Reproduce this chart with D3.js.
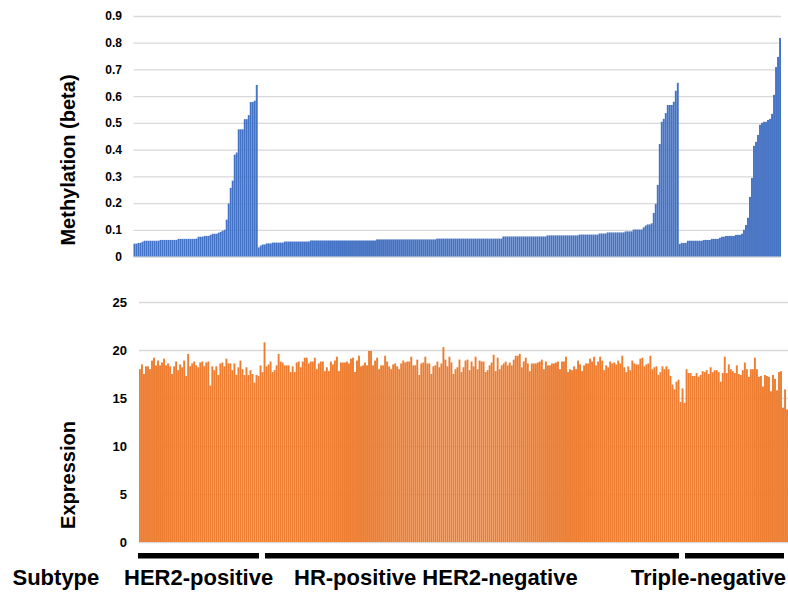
<!DOCTYPE html>
<html>
<head>
<meta charset="utf-8">
<script src="https://cdn.jsdelivr.net/npm/d3@7"></script>
<style>
  body { margin: 0; background: #fff; }
  text { font-family: "Liberation Sans", Arial, sans-serif; font-weight: bold; fill: #000; }
</style>
</head>
<body>
<svg id="chart" width="788" height="595"></svg>
<script>
// subtypes, in sample order
const subtypes = ["HER2-positive", "HR-positive HER2-negative", "Triple-negative"];
const subtypeCounts = [62, 210, 51];

// methylation (beta) per sample, sorted within each subtype
const methylation = [
  // HER2-positive
  0.048, 0.048, 0.051, 0.051, 0.055, 0.059, 0.059, 0.059, 0.059, 0.059,
  0.059, 0.059, 0.059, 0.062, 0.062, 0.062, 0.062, 0.062, 0.062, 0.062,
  0.062, 0.062, 0.066, 0.066, 0.066, 0.066, 0.066, 0.066, 0.066, 0.066,
  0.066, 0.067, 0.074, 0.074, 0.074, 0.077, 0.077, 0.077, 0.081, 0.085,
  0.085, 0.085, 0.089, 0.092, 0.096, 0.100, 0.138, 0.198, 0.257, 0.284,
  0.381, 0.389, 0.476, 0.476, 0.476, 0.514, 0.514, 0.529, 0.578, 0.578,
  0.583, 0.642,
  // HR-positive HER2-negative
  0.034, 0.041, 0.045, 0.045, 0.049, 0.049, 0.049, 0.052, 0.052, 0.052,
  0.052, 0.052, 0.052, 0.056, 0.056, 0.056, 0.056, 0.056, 0.056, 0.056,
  0.056, 0.056, 0.056, 0.056, 0.056, 0.056, 0.060, 0.060, 0.060, 0.060,
  0.060, 0.060, 0.060, 0.060, 0.060, 0.060, 0.060, 0.060, 0.060, 0.060,
  0.060, 0.060, 0.060, 0.060, 0.060, 0.060, 0.060, 0.060, 0.060, 0.060,
  0.060, 0.060, 0.060, 0.060, 0.060, 0.060, 0.060, 0.060, 0.060, 0.064,
  0.064, 0.064, 0.064, 0.064, 0.064, 0.064, 0.064, 0.064, 0.064, 0.064,
  0.064, 0.064, 0.064, 0.064, 0.064, 0.064, 0.064, 0.064, 0.064, 0.064,
  0.064, 0.064, 0.064, 0.064, 0.064, 0.064, 0.064, 0.064, 0.064, 0.067,
  0.067, 0.067, 0.067, 0.067, 0.067, 0.067, 0.067, 0.067, 0.067, 0.067,
  0.067, 0.067, 0.067, 0.067, 0.067, 0.067, 0.067, 0.067, 0.067, 0.067,
  0.067, 0.067, 0.067, 0.067, 0.067, 0.067, 0.067, 0.067, 0.067, 0.067,
  0.067, 0.067, 0.075, 0.075, 0.075, 0.075, 0.075, 0.075, 0.075, 0.075,
  0.075, 0.075, 0.075, 0.075, 0.075, 0.075, 0.075, 0.075, 0.075, 0.075,
  0.075, 0.075, 0.075, 0.075, 0.079, 0.079, 0.079, 0.079, 0.079, 0.079,
  0.079, 0.079, 0.079, 0.079, 0.079, 0.079, 0.079, 0.079, 0.079, 0.079,
  0.082, 0.082, 0.082, 0.082, 0.082, 0.082, 0.082, 0.082, 0.082, 0.082,
  0.086, 0.086, 0.086, 0.086, 0.090, 0.090, 0.090, 0.090, 0.090, 0.090,
  0.090, 0.090, 0.090, 0.094, 0.094, 0.094, 0.094, 0.101, 0.101, 0.101,
  0.101, 0.101, 0.109, 0.116, 0.120, 0.120, 0.124, 0.163, 0.197, 0.268,
  0.421, 0.504, 0.515, 0.537, 0.567, 0.567, 0.567, 0.579, 0.620, 0.650,
  // Triple-negative
  0.047, 0.051, 0.051, 0.051, 0.059, 0.059, 0.059, 0.059, 0.059, 0.059,
  0.059, 0.059, 0.062, 0.062, 0.062, 0.062, 0.066, 0.066, 0.066, 0.066,
  0.070, 0.074, 0.074, 0.077, 0.077, 0.077, 0.077, 0.077, 0.081, 0.081,
  0.081, 0.085, 0.100, 0.118, 0.145, 0.223, 0.294, 0.414, 0.429, 0.455,
  0.493, 0.500, 0.504, 0.504, 0.511, 0.515, 0.534, 0.605, 0.709, 0.747,
  0.818
];

// expression per sample, same order
const expression = [
  // HER2-positive
  18.0, 18.5, 17.5, 18.3, 18.3, 18.0, 18.9, 19.2, 18.4, 18.9,
  18.4, 18.7, 19.1, 18.4, 18.6, 18.3, 17.5, 18.3, 18.8, 17.9,
  18.5, 18.2, 18.9, 17.3, 19.6, 18.3, 18.6, 18.8, 18.4, 18.2,
  18.7, 18.8, 18.3, 18.7, 18.8, 16.3, 18.3, 17.9, 18.3, 17.4,
  18.6, 18.7, 18.3, 19.1, 18.6, 18.6, 17.9, 18.6, 17.4, 18.2,
  18.9, 18.0, 17.4, 18.2, 17.4, 17.9, 17.5, 16.6, 17.4, 17.3,
  18.4, 17.7,
  // HR-positive HER2-negative
  20.8, 18.3, 18.5, 18.8, 17.7, 17.9, 18.4, 19.6, 18.8, 18.7,
  18.4, 18.4, 18.4, 17.7, 18.3, 17.7, 18.7, 18.8, 18.2, 18.8,
  19.2, 19.2, 18.6, 18.8, 18.8, 19.2, 18.0, 18.6, 18.8, 18.8,
  17.8, 18.2, 17.8, 18.8, 18.5, 18.9, 19.3, 17.8, 18.7, 18.7,
  18.7, 18.8, 18.6, 19.1,
  19.2, 17.7, 18.9, 19.4, 18.3, 18.4, 18.7, 18.4, 19.9, 19.9,
  18.4, 18.9, 19.2, 18.0, 18.4, 18.4, 19.4, 18.8, 18.3, 18.0,
  18.5, 18.6, 18.3, 18.0, 18.6, 18.9, 18.7, 18.8, 18.8, 19.3,
  18.4, 18.4, 19.0, 17.4, 18.6, 18.7, 19.3, 18.6, 18.6, 17.5,
  18.3, 18.4, 18.8, 18.2, 18.6, 20.3, 19.0, 18.3, 19.3, 18.7,
  17.5, 18.0, 18.2, 19.0, 17.7, 18.2, 18.9, 19.0, 17.9, 18.8,
  18.3, 19.3, 18.0, 18.9, 18.8, 18.8, 17.7, 17.9, 18.4, 18.7,
  19.5, 17.8, 19.2, 18.0, 18.4, 18.6, 18.8, 18.4, 18.7, 18.4,
  19.0, 19.4, 19.4, 19.6, 18.2, 18.8, 19.2, 18.6, 17.8, 18.6,
  18.6, 18.6, 18.7, 18.8, 19.0, 18.0, 18.8, 18.4, 18.4, 18.6,
  18.6, 18.7, 18.8, 18.0, 18.8, 18.8, 19.3, 17.7, 18.0, 17.9,
  18.3,
  18.0, 18.9, 18.5, 17.8, 18.4, 18.6, 18.6, 19.1, 18.8, 19.3,
  18.4, 18.8, 19.3, 18.9, 17.9, 18.4, 18.2, 18.8, 18.6, 18.7,
  18.5, 18.9, 18.6, 19.4, 18.2, 17.7, 18.3, 17.9, 18.9, 18.6,
  18.5, 18.5, 19.1, 19.2, 18.3, 18.5, 18.6, 19.4, 18.0, 18.2,
  18.3, 17.4, 17.7, 18.3, 18.0, 18.3, 18.0,
  // Triple-negative
  17.3, 16.4, 15.9, 16.7, 16.9, 14.6, 16.0, 14.5, 18.0, 17.6,
  17.6, 17.3, 17.3, 17.6, 17.2, 17.4, 17.8, 17.7, 17.9, 17.5,
  18.2, 17.7, 17.9, 17.9, 17.7, 16.7, 17.6, 19.3, 17.6, 18.5,
  18.0, 17.8, 17.6, 18.4, 17.5, 17.4, 17.9, 18.7, 18.0, 17.2,
  18.0, 18.0, 19.2, 18.0, 17.2, 17.3, 16.2, 17.4, 17.3, 17.2,
  15.7, 17.4, 17.0, 15.8, 17.7, 17.8, 14.0, 15.9, 13.8
];

const methTicks = [0, 0.1, 0.2, 0.3, 0.4, 0.5, 0.6, 0.7, 0.8, 0.9];
const exprTicks = [0, 5, 10, 15, 20, 25];

const svg = d3.select("#chart");
const samples = d3.range(methylation.length);

// top panel: methylation
const xTop = d3.scaleBand().domain(samples).range([133.5, 781]).paddingInner(0.05);
const yTop = d3.scaleLinear().domain([0, 0.9]).range([256.5, 16]);

// bottom panel: expression (sits a few px to the right of the top one)
const xBot = d3.scaleBand().domain(samples).range([139, 788]).paddingInner(0.05);
const yBot = d3.scaleLinear().domain([0, 25]).range([542, 302]);

function grid(x, y, ticks, fmt, pad, size) {
    const g = svg.append("g")
        .attr("transform", "translate(" + x.range()[0] + ",0)")
        .call(d3.axisLeft(y)
            .tickValues(ticks)
            .tickSize(-(x.range()[1] - x.range()[0]))
            .tickPadding(pad)
            .tickFormat(fmt));
    g.select(".domain").remove();
    g.selectAll(".tick line").attr("stroke", "#d9d9d9").attr("stroke-width", 1.3);
    g.selectAll(".tick text")
        .style("font-size", size + "px")
        .style("font-weight", "bold")
        .style("font-family", "\"Liberation Sans\", Arial, sans-serif")
        .attr("fill", "#000");
}

grid(xTop, yTop, methTicks, d => d === 0 ? "0" : d3.format(".1f")(d), 11.5, 12);
grid(xBot, yBot, exprTicks, d3.format("d"), 12, 13);

svg.append("g")
    .selectAll("rect")
    .data(methylation)
    .enter()
    .append("rect")
    .attr("x", (d, i) => xTop(i))
    .attr("y", d => yTop(d))
    .attr("width", xTop.bandwidth())
    .attr("height", d => yTop(0) - yTop(d))
    .attr("fill", "#4472C4");

svg.append("g")
    .selectAll("rect")
    .data(expression)
    .enter()
    .append("rect")
    .attr("x", (d, i) => xBot(i))
    .attr("y", d => yBot(d))
    .attr("width", xBot.bandwidth())
    .attr("height", d => yBot(0) - yBot(d))
    .attr("fill", "#ED7D31");

// axis titles
svg.append("text")
    .attr("transform", "translate(75," + 160 + ") rotate(-90)")
    .attr("text-anchor", "middle")
    .style("font-size", "20px")
    .text("Methylation (beta)");

svg.append("text")
    .attr("transform", "translate(75," + 475 + ") rotate(-90)")
    .attr("text-anchor", "middle")
    .style("font-size", "20px")
    .text("Expression");

// subtype bars under the bottom panel
const xSub = d3.scaleLinear().domain([0, d3.sum(subtypeCounts)]).range([138, 784]);
const starts = subtypeCounts.map((c, i) => d3.sum(subtypeCounts.slice(0, i)));

svg.append("g")
    .selectAll("rect")
    .data(subtypeCounts)
    .enter()
    .append("rect")
    .attr("x", (d, i) => xSub(starts[i]) + (i > 0 ? 3 : 0))
    .attr("y", 553)
    .attr("width", (d, i) => xSub(starts[i] + d) - xSub(starts[i]) - (i > 0 ? 3 : 0) - (i < subtypeCounts.length - 1 ? 3 : 0))
    .attr("height", 5.5)
    .attr("fill", "#000");

svg.append("text")
    .attr("x", 12.5)
    .attr("y", 585)
    .style("font-size", "22px")
    .text("Subtype");

const labelPos = [{x: 124, anchor: "start"}, {x: 294, anchor: "start"}, {x: 786, anchor: "end"}];
svg.append("g")
    .selectAll("text")
    .data(subtypes)
    .enter()
    .append("text")
    .attr("x", (d, i) => labelPos[i].x)
    .attr("y", 585)
    .attr("text-anchor", (d, i) => labelPos[i].anchor)
    .style("font-size", "22px")
    .text(d => d);
</script>
</body>
</html>
